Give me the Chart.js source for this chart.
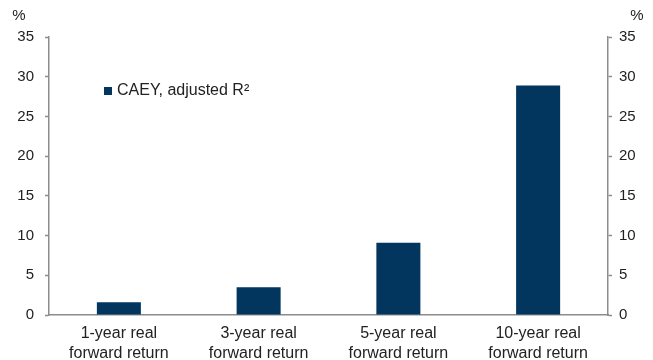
<!DOCTYPE html>
<html>
<head>
<meta charset="utf-8">
<script src="https://cdn.jsdelivr.net/npm/chart.js@4.4.1/dist/chart.umd.min.js"></script>
<style>
  html, body { margin: 0; padding: 0; background: #fff; }
  #wrap { width: 653px; height: 360px; }
</style>
</head>
<body>
<div id="wrap"><canvas id="caeyChart"></canvas></div>
<script>
// Data
const categories = [
  ['1-year real', 'forward return'],
  ['3-year real', 'forward return'],
  ['5-year real', 'forward return'],
  ['10-year real', 'forward return']
];
const adjustedR2 = [1.6, 3.5, 9.1, 28.9];
const seriesName = 'CAEY, adjusted R²';
const yTicks = [0, 5, 10, 15, 20, 25, 30, 35];

const navy = '#03365f';
const axisGrey = '#8c8c8c';
const family = 'Liberation Sans, Arial, sans-serif';

// "%" unit labels over both axes + legend box inside the plot
const extras = {
  id: 'extras',
  afterDraw(chart) {
    const c = chart.ctx;
    const left = chart.scales.y, right = chart.scales.y2;
    c.save();
    c.font = '15px ' + family;
    c.fillStyle = '#222';
    c.textBaseline = 'middle';
    c.textAlign = 'center';
    c.fillText('%', left.left + 19, 16);
    c.fillText('%', right.right - 16, 16);
    // legend
    const lx = 104, ly = 91;
    c.fillStyle = navy;
    c.fillRect(lx, ly - 4, 8, 8);
    c.font = '16px ' + family;
    c.fillStyle = '#222';
    c.textAlign = 'left';
    c.fillText(chart.data.datasets[0].label, lx + 13, ly);
    c.restore();
  }
};

function yAxis(position, width, pad) {
  return {
    position: position,
    min: 0,
    max: 35,
    afterBuildTicks(scale) { scale.ticks = yTicks.map(v => ({ value: v })); },
    afterFit(scale) { scale.width = width; },
    ticks: { color: '#222', font: { family: family, size: 15 }, padding: pad },
    grid: { drawOnChartArea: false, color: axisGrey, tickLength: 4, tickWidth: 1.5 },
    border: { color: axisGrey, width: 1.5 }
  };
}

new Chart(document.getElementById('caeyChart'), {
  type: 'bar',
  data: {
    labels: categories,
    datasets: [{
      label: seriesName,
      data: adjustedR2,
      backgroundColor: navy,
      barPercentage: 0.315,
      categoryPercentage: 1.0
    }]
  },
  options: {
    responsive: true,
    maintainAspectRatio: false,
    animation: false,
    layout: { padding: { top: 37, left: 0, right: 0, bottom: 0 } },
    plugins: { legend: { display: false }, tooltip: { enabled: false } },
    scales: {
      x: {
        afterFit(scale) { scale.height = 45; },
        ticks: {
          color: '#222',
          font: { family: family, size: 16, lineHeight: 1.25 },
          padding: 1,
          maxRotation: 0,
          autoSkip: false
        },
        grid: { display: false },
        border: { color: axisGrey, width: 1.5 }
      },
      y: yAxis('left', 49, 11),
      y2: yAxis('right', 45, 7)
    }
  },
  plugins: [extras]
});
</script>
</body>
</html>
